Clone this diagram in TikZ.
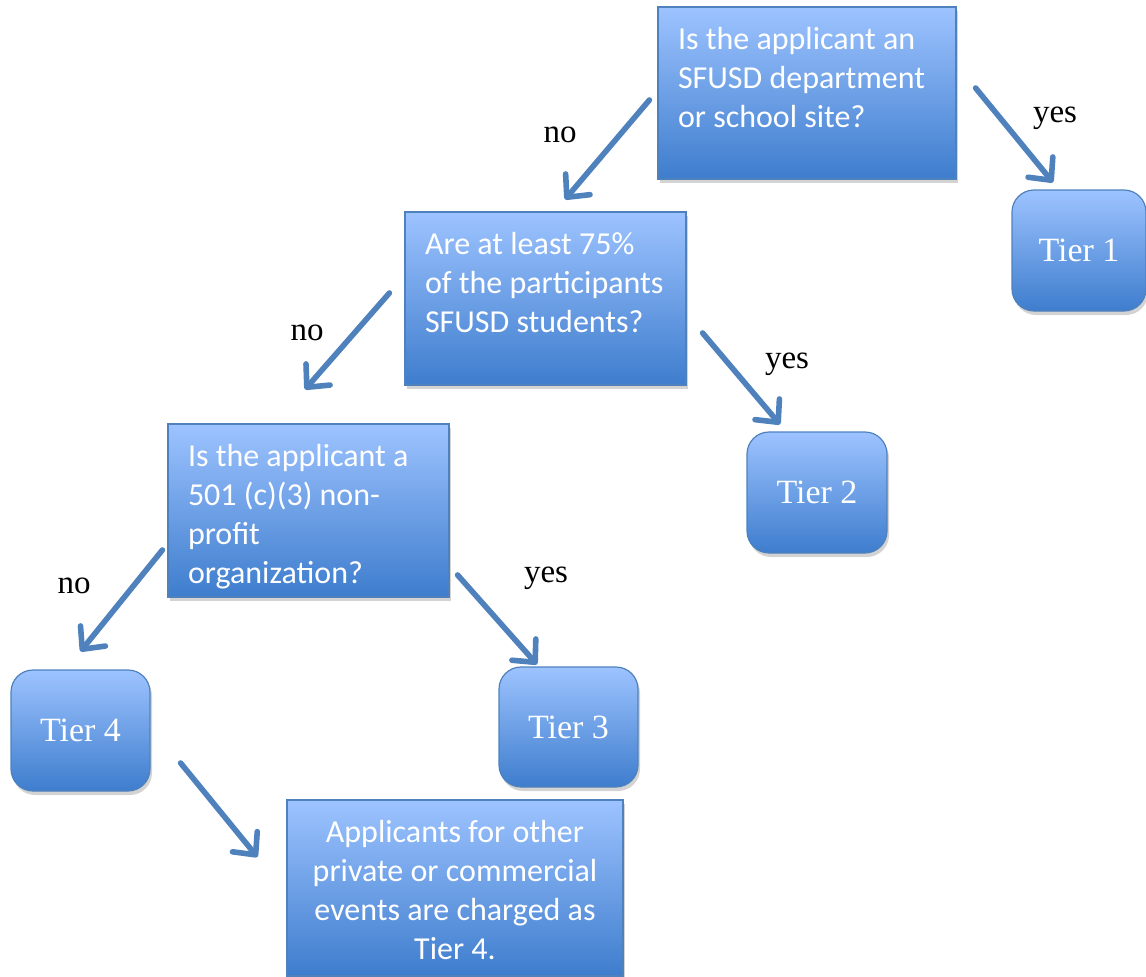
\documentclass[tikz,border=0pt]{standalone}
\usepackage{fontspec}
\setmainfont{Liberation Serif}
\setsansfont{Carlito}
\usetikzlibrary{arrows.meta,shadows,positioning}
\definecolor{boxtop}{RGB}{157,195,255}
\definecolor{boxbot}{RGB}{62,125,205}
\definecolor{boxedge}{RGB}{79,129,189}
\definecolor{arrowblue}{RGB}{79,129,189}

\newcommand{\qtext}[3]{\parbox[t][#1][t]{#2}{\raggedright #3}}
\newcommand{\ntext}[3]{\parbox[t][#1][t]{#2}{\centering #3}}

\tikzset{
  qbox/.style={draw=boxedge, line width=0.6pt, top color=boxtop, bottom color=boxbot,
    text=white, font=\sffamily\fontsize{16}{19.5}\selectfont,
    inner xsep=10pt, inner ysep=10pt,
    drop shadow={shadow xshift=1pt, shadow yshift=-2pt, opacity=0.35}},
  tierbox/.style={draw=boxedge, line width=0.6pt, top color=boxtop, bottom color=boxbot,
    text=white, font=\rmfamily\fontsize{17}{20}\selectfont, rounded corners=11pt,
    minimum width=69.5pt, minimum height=60.5pt, inner sep=0pt,
    drop shadow={shadow xshift=1pt, shadow yshift=-2pt, opacity=0.35}},
  lbl/.style={font=\rmfamily\fontsize{16.5}{19}\selectfont, inner sep=0pt},
  arr/.style={draw=arrowblue, line width=2.8pt, line cap=round,
    -{Straight Barb[length=8.5pt,width=16pt,round]}},
}

\begin{document}
\begin{tikzpicture}[x=0.5pt, y=-0.5pt]
  \useasboundingbox (0,0) rectangle (1146,976);

  % questions
  \node at (807,93) [qbox] (q1) {\qtext{66pt}{129pt}{Is the applicant an\\ SFUSD department\\ or school site?}};
  \node at (545.5,298.5) [qbox] (q2) {\qtext{66.5pt}{120.5pt}{Are at least 75\%\\ of the participants\\ SFUSD students?}};
  \node at (308.5,510.5) [qbox] (q3) {\qtext{66.5pt}{120.5pt}{Is the applicant a\\ 501 (c)(3) non-\\ profit\\ organization?}};

  % tiers
  \node at (1079,250.5) [tierbox, minimum width=67pt] (t1) {Tier 1};
  \node at (817,492.5) [tierbox, minimum width=70pt] (t2) {Tier 2};
  \node at (568.5,727) [tierbox, minimum height=60pt] (t3) {Tier 3};
  \node at (80.5,730.5) [tierbox] (t4) {Tier 4};

  \node at (455,888) [qbox] (note) {\ntext{68pt}{148pt}{Applicants for other\\ private or commercial\\ events are charged as\\ Tier 4.}};

  % arrows
  \draw[arr] ([shift={(-8,7)}]q1.west) -- ([shift={(19.5,-12)}]q2.north);
  \draw[arr] ([shift={(19,-5)}]q1.east) -- ([shift={(-26,-7)}]t1.north);
  \draw[arr] ([shift={(-15,-5.5)}]q2.west) -- ([shift={(-3.5,-34)}]q3.north);
  \draw[arr] ([shift={(16,34.5)}]q2.east) -- ([shift={(-37,-7)}]t2.north);
  \draw[arr] ([shift={(-5,39.5)}]q3.west) -- ([shift={(0,-18)}]t4.north);
  \draw[arr] ([shift={(8,64.5)}]q3.east) -- ([shift={(-31.5,-2)}]t3.north);
  \draw[arr] ([shift={(30,32.5)}]t4.east) -- ([shift={(-29,-31)}]note.west);

  % labels
  \node at (560,135) [lbl] (no1) {no};
  \node at (1055,118) [lbl] (yes1) {yes};
  \node at (307,333) [lbl] (no2) {no};
  \node at (787,364) [lbl] (yes2) {yes};
  \node at (74,586) [lbl] (no3) {no};
  \node at (546,578) [lbl] (yes3) {yes};
\end{tikzpicture}
\end{document}
